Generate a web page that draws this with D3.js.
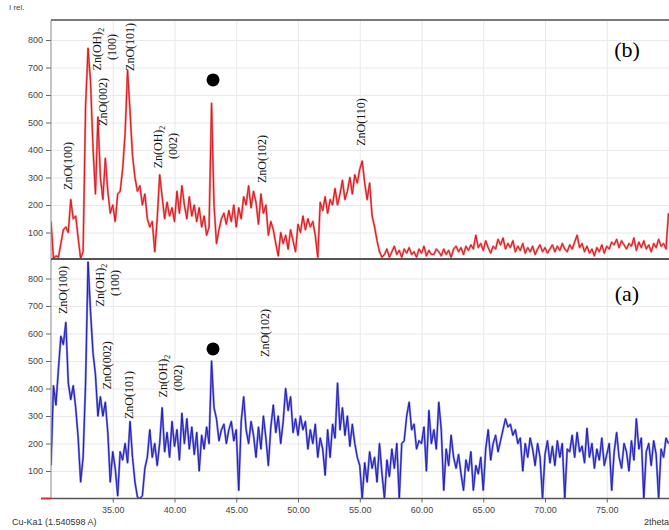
<!DOCTYPE html>
<html>
<head>
<meta charset="utf-8">
<script src="https://cdn.jsdelivr.net/npm/d3@7"></script>
<style>
  body { margin: 0; background: #fff; }
  svg { display: block; }
  .tick text { font-family: Arial, "Liberation Sans", sans-serif; font-size: 9px; fill: #444; }
  .peak { font-family: "Liberation Serif", "Times New Roman", serif; font-size: 12px; fill: #111; }
</style>
</head>
<body>
<script>
/* ===== data (2theta grid: 30.0 .. 80.0, step 0.2) ===== */

var thetaStart = 30;
var thetaStep = 0.2;

// sample (b), upper panel, one row per degree
var intensityB = [
  140, 5, 15, 10, 60,
  110, 120, 100, 220, 150,
  160, 80, 5, 30, 560,
  770, 650, 410, 240, 520,
  300, 220, 370, 250, 170,
  200, 140, 240, 250, 330,
  460, 690, 540, 380, 300,
  250, 270, 200, 240, 150,
  120, 140, 30, 150, 310,
  230, 150, 210, 160, 190,
  140, 250, 170, 270, 200,
  150, 230, 160, 200, 140,
  190, 120, 160, 90, 120,
  570, 200, 60, 110, 150,
  170, 130, 180, 140, 200,
  120, 190, 150, 230, 200,
  270, 190, 250, 210, 130,
  240, 170, 200, 90, 140,
  110, 60, 15, 100, 60,
  90, 40, 110, 70, 30,
  130, 100, 160, 110, 150,
  120, 140, 90, 10, 210,
  180, 230, 170, 220, 200,
  260, 200, 240, 290, 220,
  250, 300, 240, 310, 280,
  330, 360, 280, 220, 280,
  160, 120, 70, 30, 10,
  20, 40, 10, 30, 50,
  20, 35, 10, 40, 25,
  45, 20, 30, 10, 40,
  25, 50, 15, 35, 20,
  20, 40, 30, 15, 40,
  20, 35, 10, 40, 50,
  30, 45, 20, 50, 35,
  55, 40, 90, 45, 60,
  35, 70, 45, 25, 50,
  40, 75, 55, 80, 40,
  60, 45, 70, 30, 50,
  35, 60, 25, 45, 30,
  50, 20, 40, 55, 30,
  45, 25, 40, 55, 30,
  50, 35, 60, 40, 30,
  55, 40, 65, 90, 45,
  60, 30, 50, 25, 40,
  15, 45, 30, 55, 25,
  50, 40, 65, 55, 75,
  45, 70, 55, 40, 60,
  50, 80, 35, 65, 45,
  70, 40, 55, 30, 60,
  45, 75, 50, 60, 40,
  170
];

// sample (a), lower panel
var intensityA = [
  120, 410, 340, 470, 590,
  560, 640, 420, 360, 410,
  330, 220, 60, 150, 420,
  860, 680, 530, 450, 300,
  370, 300, 350, 240, 60,
  170, 110, 10, 170, 140,
  200, 130, 280, 150, 60,
  5, 0, 10, 110, 150,
  250, 150, 200, 120, 200,
  330, 170, 240, 150, 280,
  190, 250, 140, 310, 200,
  290, 180, 260, 160, 240,
  100, 230, 180, 260, 200,
  500, 330, 290, 210, 250,
  270, 200, 250, 280, 210,
  250, 30, 280, 370, 250,
  200, 280, 230, 150, 260,
  180, 300, 220, 120, 260,
  340, 240, 300, 200, 280,
  400, 320, 370, 240, 290,
  230, 300, 250, 280, 180,
  250, 200, 270, 150, 220,
  180, 85, 250, 150, 270,
  220, 420, 250, 330, 230,
  300, 190, 270, 200, 150,
  120, 0, 130, 60, 170,
  110, 150, 60, 200, 90,
  0, 140, 80, 180, 110,
  200, 0, 200, 210, 300,
  350, 250, 270, 180, 210,
  200, 260, 100, 320, 200,
  250, 180, 350, 250, 30,
  180, 120, 230, 150, 110,
  160, 90, 30, 140, 100,
  170, 30, 120, 90, 150,
  30, 180, 250, 140, 200,
  230, 170, 210, 250, 290,
  260, 270, 230, 250, 200,
  220, 100, 200, 150, 220,
  180, 120, 200, 150, 0,
  160, 210, 130, 190, 120,
  210, 150, 200, 0, 180,
  170, 230, 150, 240, 170,
  190, 130, 255, 150, 200,
  110, 180, 140, 220, 120,
  160, 200, 30, 170, 240,
  150, 110, 200, 170, 100,
  210, 140, 290, 180, 220,
  0, 170, 200, 120, 210,
  160, 0, 180, 150, 220,
  200
];

var yTicks = [100, 200, 300, 400, 500, 600, 700, 800];
var xTicks = [35, 40, 45, 50, 55, 60, 65, 70, 75];
var xGrid = [35, 40, 45, 50, 55, 60, 65, 70, 75];

// peak labels: [2theta, intensity, text, subscript]
var peaksB = [
  [31.38, 342, 'ZnO(100)'],
  [33.72, 767, 'Zn(OH)', '2'],
  [34.94, 775, '(100)'],
  [34.21, 575, 'ZnO(002)'],
  [36.40, 775, 'ZnO(101)'],
  [38.66, 411, 'Zn(OH)', '2'],
  [39.88, 415, '(002)'],
  [47.08, 367, 'ZnO(102)'],
  [55.10, 502, 'ZnO(110)']
];
var peaksA = [
  [30.97, 758, 'ZnO(100)'],
  [33.97, 776, 'Zn(OH)', '2'],
  [35.18, 784, '(100)'],
  [34.53, 485, 'ZnO(002)'],
  [36.32, 376, 'ZnO(101)'],
  [39.07, 445, 'Zn(OH)', '2'],
  [40.28, 438, '(002)'],
  [47.33, 602, 'ZnO(102)']
];
var dotB = [43.12, 655];
var dotA = [43.12, 544];

/* ===== frame ===== */

var w = 669;
var h = 530;
var left = 51;

var svg = d3.select('body')
  .append('svg')
  .attr('width', w)
  .attr('height', h);

var xScale = d3.scaleLinear()
  .domain([30, 80])
  .range([left, 668.5]);

var yTop = d3.scaleLinear().domain([0, 800]).range([260, 40]);
var yBot = d3.scaleLinear().domain([0, 800]).range([498.5, 278.5]);

var toSeries = function(arr) {
  return arr.map(function(v, i) {
    return { t: thetaStart + i * thetaStep, v: v };
  });
};

svg.append('clipPath').attr('id', 'clipTop')
  .append('rect').attr('x', left).attr('y', 20).attr('width', w - left).attr('height', 240);
svg.append('clipPath').attr('id', 'clipBot')
  .append('rect').attr('x', left).attr('y', 259).attr('width', w - left).attr('height', 240);

function drawPanel(yScale, series, color, halo, clipId, top, bottom) {
  // grid
  svg.append('g')
    .attr('transform', 'translate(' + left + ',0)')
    .call(d3.axisLeft(yScale).tickValues(yTicks).tickSize(-(w - left)).tickFormat(''))
    .call(function(g) {
      g.select('.domain').remove();
      g.selectAll('line').attr('stroke', '#e9e9e9');
    });

  svg.append('g')
    .attr('transform', 'translate(0,' + bottom + ')')
    .call(d3.axisBottom(xScale).tickValues(xGrid).tickSize(-(bottom - top)).tickFormat(''))
    .call(function(g) {
      g.select('.domain').remove();
      g.selectAll('line').attr('stroke', '#e9e9e9');
    });

  // y axis
  svg.append('g')
    .attr('transform', 'translate(' + left + ',0)')
    .call(d3.axisLeft(yScale).tickValues(yTicks).tickSize(5).tickPadding(3))
    .call(function(g) {
      g.select('.domain').remove();
      g.selectAll('line').attr('stroke', '#666');
    });

  var line = d3.line()
    .x(function(d) { return xScale(d.t); })
    .y(function(d) { return yScale(d.v); });

  var pts = toSeries(series);

  svg.append('path')
    .datum(pts)
    .attr('clip-path', 'url(#' + clipId + ')')
    .attr('fill', 'none')
    .attr('stroke', halo)
    .attr('stroke-width', 2.2)
    .attr('stroke-linejoin', 'round')
    .attr('d', line);

  svg.append('path')
    .datum(pts)
    .attr('clip-path', 'url(#' + clipId + ')')
    .attr('fill', 'none')
    .attr('stroke', color)
    .attr('stroke-width', 1)
    .attr('stroke-linejoin', 'round')
    .attr('d', line);
}

drawPanel(yTop, intensityB, '#d8161d', '#f08484', 'clipTop', 20, 259);
drawPanel(yBot, intensityA, '#1e1eb8', '#8282e0', 'clipBot', 259, 498.5);

/* ===== x axis ===== */

svg.append('g')
  .attr('transform', 'translate(0,498.5)')
  .call(d3.axisBottom(xScale).tickValues(xTicks).tickSize(4).tickPadding(4).tickFormat(d3.format('.2f')))
  .call(function(g) {
    g.select('.domain').remove();
    g.selectAll('line').attr('stroke', '#666');
  });

/* ===== panel borders ===== */

svg.append('line').attr('x1', left).attr('x2', w).attr('y1', 20).attr('y2', 20)
  .attr('stroke', '#7a7a7a').attr('stroke-width', 2);
svg.append('line').attr('x1', left).attr('x2', left).attr('y1', 20).attr('y2', 498.5)
  .attr('stroke', '#8a8a8a').attr('stroke-width', 1);
svg.append('line').attr('x1', left).attr('x2', w).attr('y1', 259).attr('y2', 259)
  .attr('stroke', '#555').attr('stroke-width', 2);
svg.append('line').attr('x1', left).attr('x2', w).attr('y1', 498.5).attr('y2', 498.5)
  .attr('stroke', '#555').attr('stroke-width', 1.5);
svg.append('line').attr('x1', 41).attr('x2', left).attr('y1', 498.5).attr('y2', 498.5)
  .attr('stroke', '#e3262d').attr('stroke-width', 2);

/* ===== peak labels ===== */

function drawLabels(peaks, yScale, dot) {
  peaks.forEach(function(p) {
    var t = svg.append('text')
      .attr('class', 'peak')
      .attr('text-anchor', 'middle')
      .attr('dy', '0.35em')
      .attr('transform', 'translate(' + xScale(p[0]) + ',' + yScale(p[1]) + ') rotate(-90)');
    t.append('tspan').text(p[2]);
    if (p[3]) {
      t.append('tspan').attr('dy', 3).style('font-size', '8px').text(p[3]);
    }
  });

  svg.append('circle')
    .attr('cx', xScale(dot[0]))
    .attr('cy', yScale(dot[1]))
    .attr('r', 6.5)
    .attr('fill', '#000');
}

drawLabels(peaksB, yTop, dotB);
drawLabels(peaksA, yBot, dotA);

svg.append('text')
  .attr('x', xScale(76.64)).attr('y', yTop(738))
  .attr('text-anchor', 'middle')
  .style('font-family', '"Liberation Serif", serif')
  .style('font-size', '22px')
  .text('(b)');

svg.append('text')
  .attr('x', xScale(76.64)).attr('y', yBot(718))
  .attr('text-anchor', 'middle')
  .style('font-family', '"Liberation Serif", serif')
  .style('font-size', '22px')
  .text('(a)');

/* ===== captions ===== */

svg.append('text')
  .attr('x', 9).attr('y', 10)
  .style('font-family', 'Arial, "Liberation Sans", sans-serif')
  .style('font-size', '8px')
  .attr('fill', '#444')
  .text('I rel.');

svg.append('text')
  .attr('x', 12).attr('y', 525)
  .style('font-family', 'Arial, "Liberation Sans", sans-serif')
  .style('font-size', '9px')
  .attr('fill', '#333')
  .text('Cu-Ka1 (1.540598 A)');

svg.append('text')
  .attr('x', 644).attr('y', 525)
  .style('font-family', 'Arial, "Liberation Sans", sans-serif')
  .style('font-size', '9px')
  .attr('fill', '#333')
  .text('2theta');
</script>
</body>
</html>
